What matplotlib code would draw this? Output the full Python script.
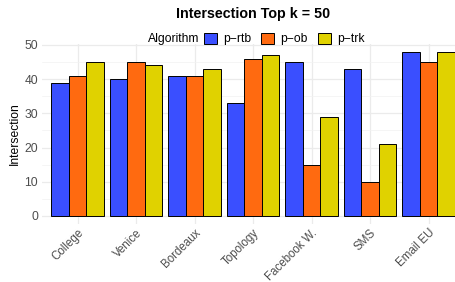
import matplotlib.pyplot as plt
import numpy as np
from matplotlib.patches import Patch

datasets = ["College", "Venice", "Bordeaux", "Topology", "Facebook W.", "SMS", "Email EU"]
algorithms = ["p\u2212rtb", "p\u2212ob", "p\u2212trk"]
p_rtb = [39, 40, 41, 33, 45, 43, 48]
p_ob = [41, 45, 41, 46, 15, 10, 45]
p_trk = [45, 44, 43, 47, 29, 21, 48]
colors = ["#3a4fff", "#ff6a10", "#e0d200"]

plt.rcParams["font.family"] = ["Liberation Sans", "DejaVu Sans"]

W, H = 456, 282
fig = plt.figure(figsize=(W / 100, H / 100), dpi=100)
ax = fig.add_axes([42.4 / W, 1 - 224.2 / H, (463.6 - 42.4) / W, (224.2 - 43.6) / H])

x = np.arange(1, len(datasets) + 1)
bw = 0.3
for i, (vals, col) in enumerate(zip([p_rtb, p_ob, p_trk], colors)):
    ax.bar(x + (i - 1) * bw, vals, width=bw, color=col, edgecolor="black",
           linewidth=0.7, zorder=3)

ax.set_xlim(0.4, 7.6)
ax.set_ylim(-2.4, 50.4)
ax.set_yticks([0, 10, 20, 30, 40, 50])
ax.set_yticks([5, 15, 25, 35, 45], minor=True)
ax.set_xticks(x)
ax.set_xticklabels(datasets, rotation=45, ha="right", rotation_mode="anchor")
ax.tick_params(axis="both", which="both", length=0, labelsize=8.7, labelcolor="#4d4d4d")
ax.tick_params(axis="x", pad=2, labelsize=8.3)
ax.tick_params(axis="y", pad=3)
ax.grid(True, which="major", color="#ebebeb", linewidth=0.9, zorder=0)
ax.grid(True, which="minor", axis="y", color="#f2f2f2", linewidth=0.5, zorder=0)
for s in ax.spines.values():
    s.set_visible(False)
ax.set_ylabel("Intersection", fontsize=8.7, labelpad=3)

fig.text(253 / W, 1 - 14 / H, "Intersection Top k = 50", ha="center", va="center",
         fontsize=10.3, fontweight="bold")

handles = [Patch(facecolor=c, edgecolor="black", linewidth=0.7) for c in colors]
fig.legend(handles, algorithms, loc="center left", bbox_to_anchor=(204 / W, 1 - 39 / H),
           ncol=3, frameon=False, fontsize=8.7, handlelength=1.1, handleheight=1.1,
           handletextpad=0.5, columnspacing=0.8, borderpad=0, borderaxespad=0)
fig.text(199 / W, 1 - 39 / H, "Algorithm", ha="right", va="center", fontsize=8.7)

fig.savefig("out.png", dpi=100)
